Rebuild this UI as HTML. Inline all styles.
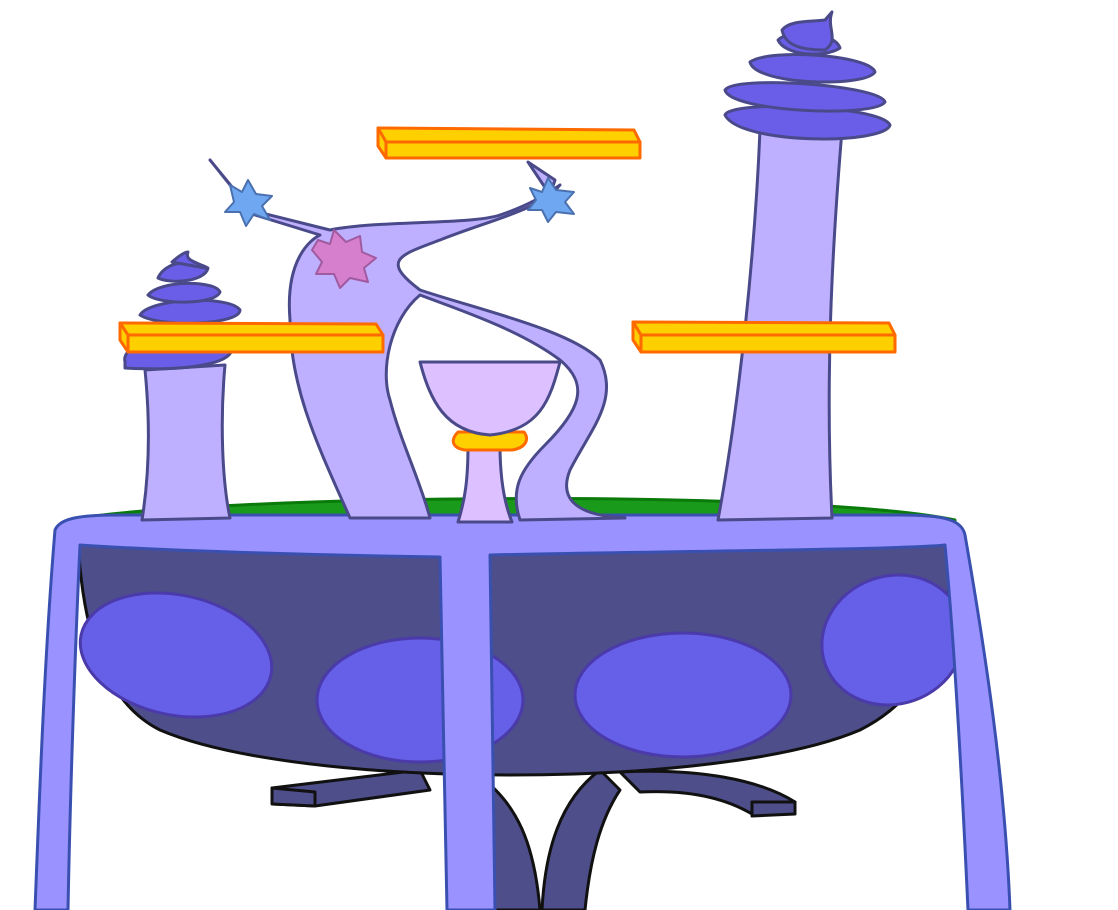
<!DOCTYPE html>
<html><head><meta charset="utf-8"><style>
html,body{margin:0;padding:0;background:#fff;width:1118px;height:910px;overflow:hidden}
svg{display:block}
</style></head><body>
<svg width="1118" height="910" viewBox="0 0 1118 910">
<g stroke="#4a4a8a" stroke-width="3" stroke-linejoin="round">
  <!-- pedestal base -->
  <g fill="#4e4e8a" stroke="#111">
    <path d="M272 788 L420 770 L430 790 L315 806 L273 804 Z"/>
    <path d="M272 788 L272 804 L315 806 L315 792 Z"/>
    <path d="M620 772 C700 768 760 780 795 802 L752 814 C720 795 680 790 640 792 Z"/>
    <path d="M752 802 L795 802 L795 814 L752 816 Z"/>
    <path d="M470 770 C520 800 535 850 540 910 L495 910 C490 860 480 820 460 790 Z"/>
    <path d="M600 770 C560 800 545 850 542 910 L585 910 C590 860 600 820 620 790 Z"/>
  </g>
  <!-- green rim -->
  <path d="M68 520 C200 495 800 488 955 520 L955 530 L68 530 Z" fill="#1a9a1a" stroke="#0a7a0a"/>
  <!-- bowl -->
  <path d="M78 540 L950 540 C955 640 920 700 860 730 C720 790 300 790 160 730 C100 700 82 620 78 540 Z" fill="#4e4e8a" stroke="#111"/>
  <g fill="#6660e8" stroke="#4a3aaa">
    <ellipse cx="176" cy="655" rx="97" ry="60" transform="rotate(12 176 655)"/>
    <ellipse cx="420" cy="700" rx="103" ry="62"/>
    <ellipse cx="683" cy="695" rx="108" ry="62"/>
    <ellipse cx="893" cy="640" rx="72" ry="64" transform="rotate(-20 893 640)"/>
  </g>
  <!-- table top and legs -->
  <g fill="#9a93ff" stroke="#3a50b0">
    <path d="M55 530 C60 518 80 515 120 515 L900 515 C945 515 962 520 965 535 C985 650 1005 780 1010 910 L968 910 C962 780 955 650 945 545 C900 550 600 552 490 555 L495 910 L447 910 L440 557 C300 555 150 550 80 545 C75 650 70 800 68 910 L35 910 C40 780 45 650 55 530 Z"/>
  </g>
  <!-- left tower -->
  <path d="M145 370 L225 365 C220 420 222 480 230 518 L142 520 C150 470 150 420 145 370 Z" fill="#bfb0ff"/>
  <g fill="#6a5ee8">
    <path d="M125 362 C120 340 180 335 230 345 C240 360 200 372 125 368 Z"/>
    <path d="M140 315 C150 298 230 295 240 310 C240 325 160 328 140 315 Z"/>
    <path d="M148 295 C160 280 215 280 220 292 C215 305 160 305 148 295 Z"/>
    <path d="M158 278 C165 262 190 258 208 268 C205 282 170 284 158 278 Z"/>
    <path d="M172 262 C180 255 185 252 188 252 C184 262 200 262 205 268 Z"/>
  </g>
  <!-- right tower -->
  <path d="M760 130 L842 130 C832 250 825 380 832 518 L718 520 C740 400 755 250 760 130 Z" fill="#bfb0ff"/>
  <g fill="#6a5ee8">
    <path d="M725 115 C730 100 880 105 890 125 C885 145 740 145 725 115 Z"/>
    <path d="M725 90 C735 75 880 85 885 102 C875 118 730 112 725 90 Z"/>
    <path d="M750 62 C770 48 870 55 875 72 C865 88 755 85 750 62 Z"/>
    <path d="M778 40 C790 28 835 32 840 48 C825 58 785 56 778 40 Z"/>
    <path d="M782 30 C790 20 810 22 825 20 L832 12 C826 28 840 40 825 50 C800 50 785 45 782 30 Z"/>
  </g>
  <!-- twisted tree -->
  <path d="M210 160 L250 210 L330 230 C380 220 470 225 500 215 C530 205 545 195 560 185 C540 210 490 220 440 240 C400 255 380 260 420 290 C480 310 570 330 600 360 C620 400 590 430 570 470 C560 495 570 515 625 518 L520 520 C510 490 520 470 545 445 C580 410 590 385 560 360 C520 330 460 310 420 295 C390 320 380 370 390 400 C400 440 420 480 430 518 L350 518 C320 450 290 390 290 320 C285 260 310 240 320 235 L255 215 Z" fill="#bfb0ff"/>
  <path d="M528 162 L555 180 L550 195 Z" fill="#bfb0ff"/>
  <!-- leaves -->
  <path d="M230 185 L242 192 L248 180 L256 194 L272 196 L262 206 L270 220 L254 214 L246 226 L240 212 L225 212 L234 202 Z" fill="#6fa8f0" stroke="#4a70b0" stroke-width="2"/>
  <path d="M530 188 L542 192 L548 178 L556 190 L574 192 L565 202 L574 214 L556 212 L548 222 L542 210 L528 210 L536 200 Z" fill="#6fa8f0" stroke="#4a70b0" stroke-width="2"/>
  <path d="M318 240 L330 244 L334 230 L346 242 L360 236 L362 252 L376 258 L364 268 L368 282 L350 278 L340 288 L334 274 L316 274 L322 262 L312 250 Z" fill="#d67fcc" stroke="#a05aa0" stroke-width="2"/>
  <!-- goblet -->
  <g>
    <path d="M468 445 L500 445 C500 480 505 505 512 522 L458 522 C465 500 468 480 468 445 Z" fill="#dcc0ff"/>
    <path d="M458 432 L524 432 C530 440 525 448 512 450 L465 450 C452 448 450 440 458 432 Z" fill="#ffd000" stroke="#ff6a00"/>
    <path d="M420 362 L560 362 C550 400 540 430 490 435 C445 432 430 400 420 362 Z" fill="#dcc0ff"/>
  </g>
  <!-- yellow bars -->
  <g fill="#ffd000" stroke="#ff6a00">
    <path d="M120 323 L376 324 L383 335 L128 335 Z"/><path d="M120 323 L128 335 L128 352 L120 340 Z"/><rect x="128" y="335" width="255" height="17"/>
    <path d="M378 128 L634 130 L640 142 L386 142 Z"/><path d="M378 128 L386 142 L386 158 L378 146 Z"/><rect x="386" y="142" width="254" height="16"/>
    <path d="M633 322 L889 323 L895 335 L641 335 Z"/><path d="M633 322 L641 335 L641 352 L633 340 Z"/><rect x="641" y="335" width="254" height="17"/>
  </g>
</g>
</svg>
</body></html>
